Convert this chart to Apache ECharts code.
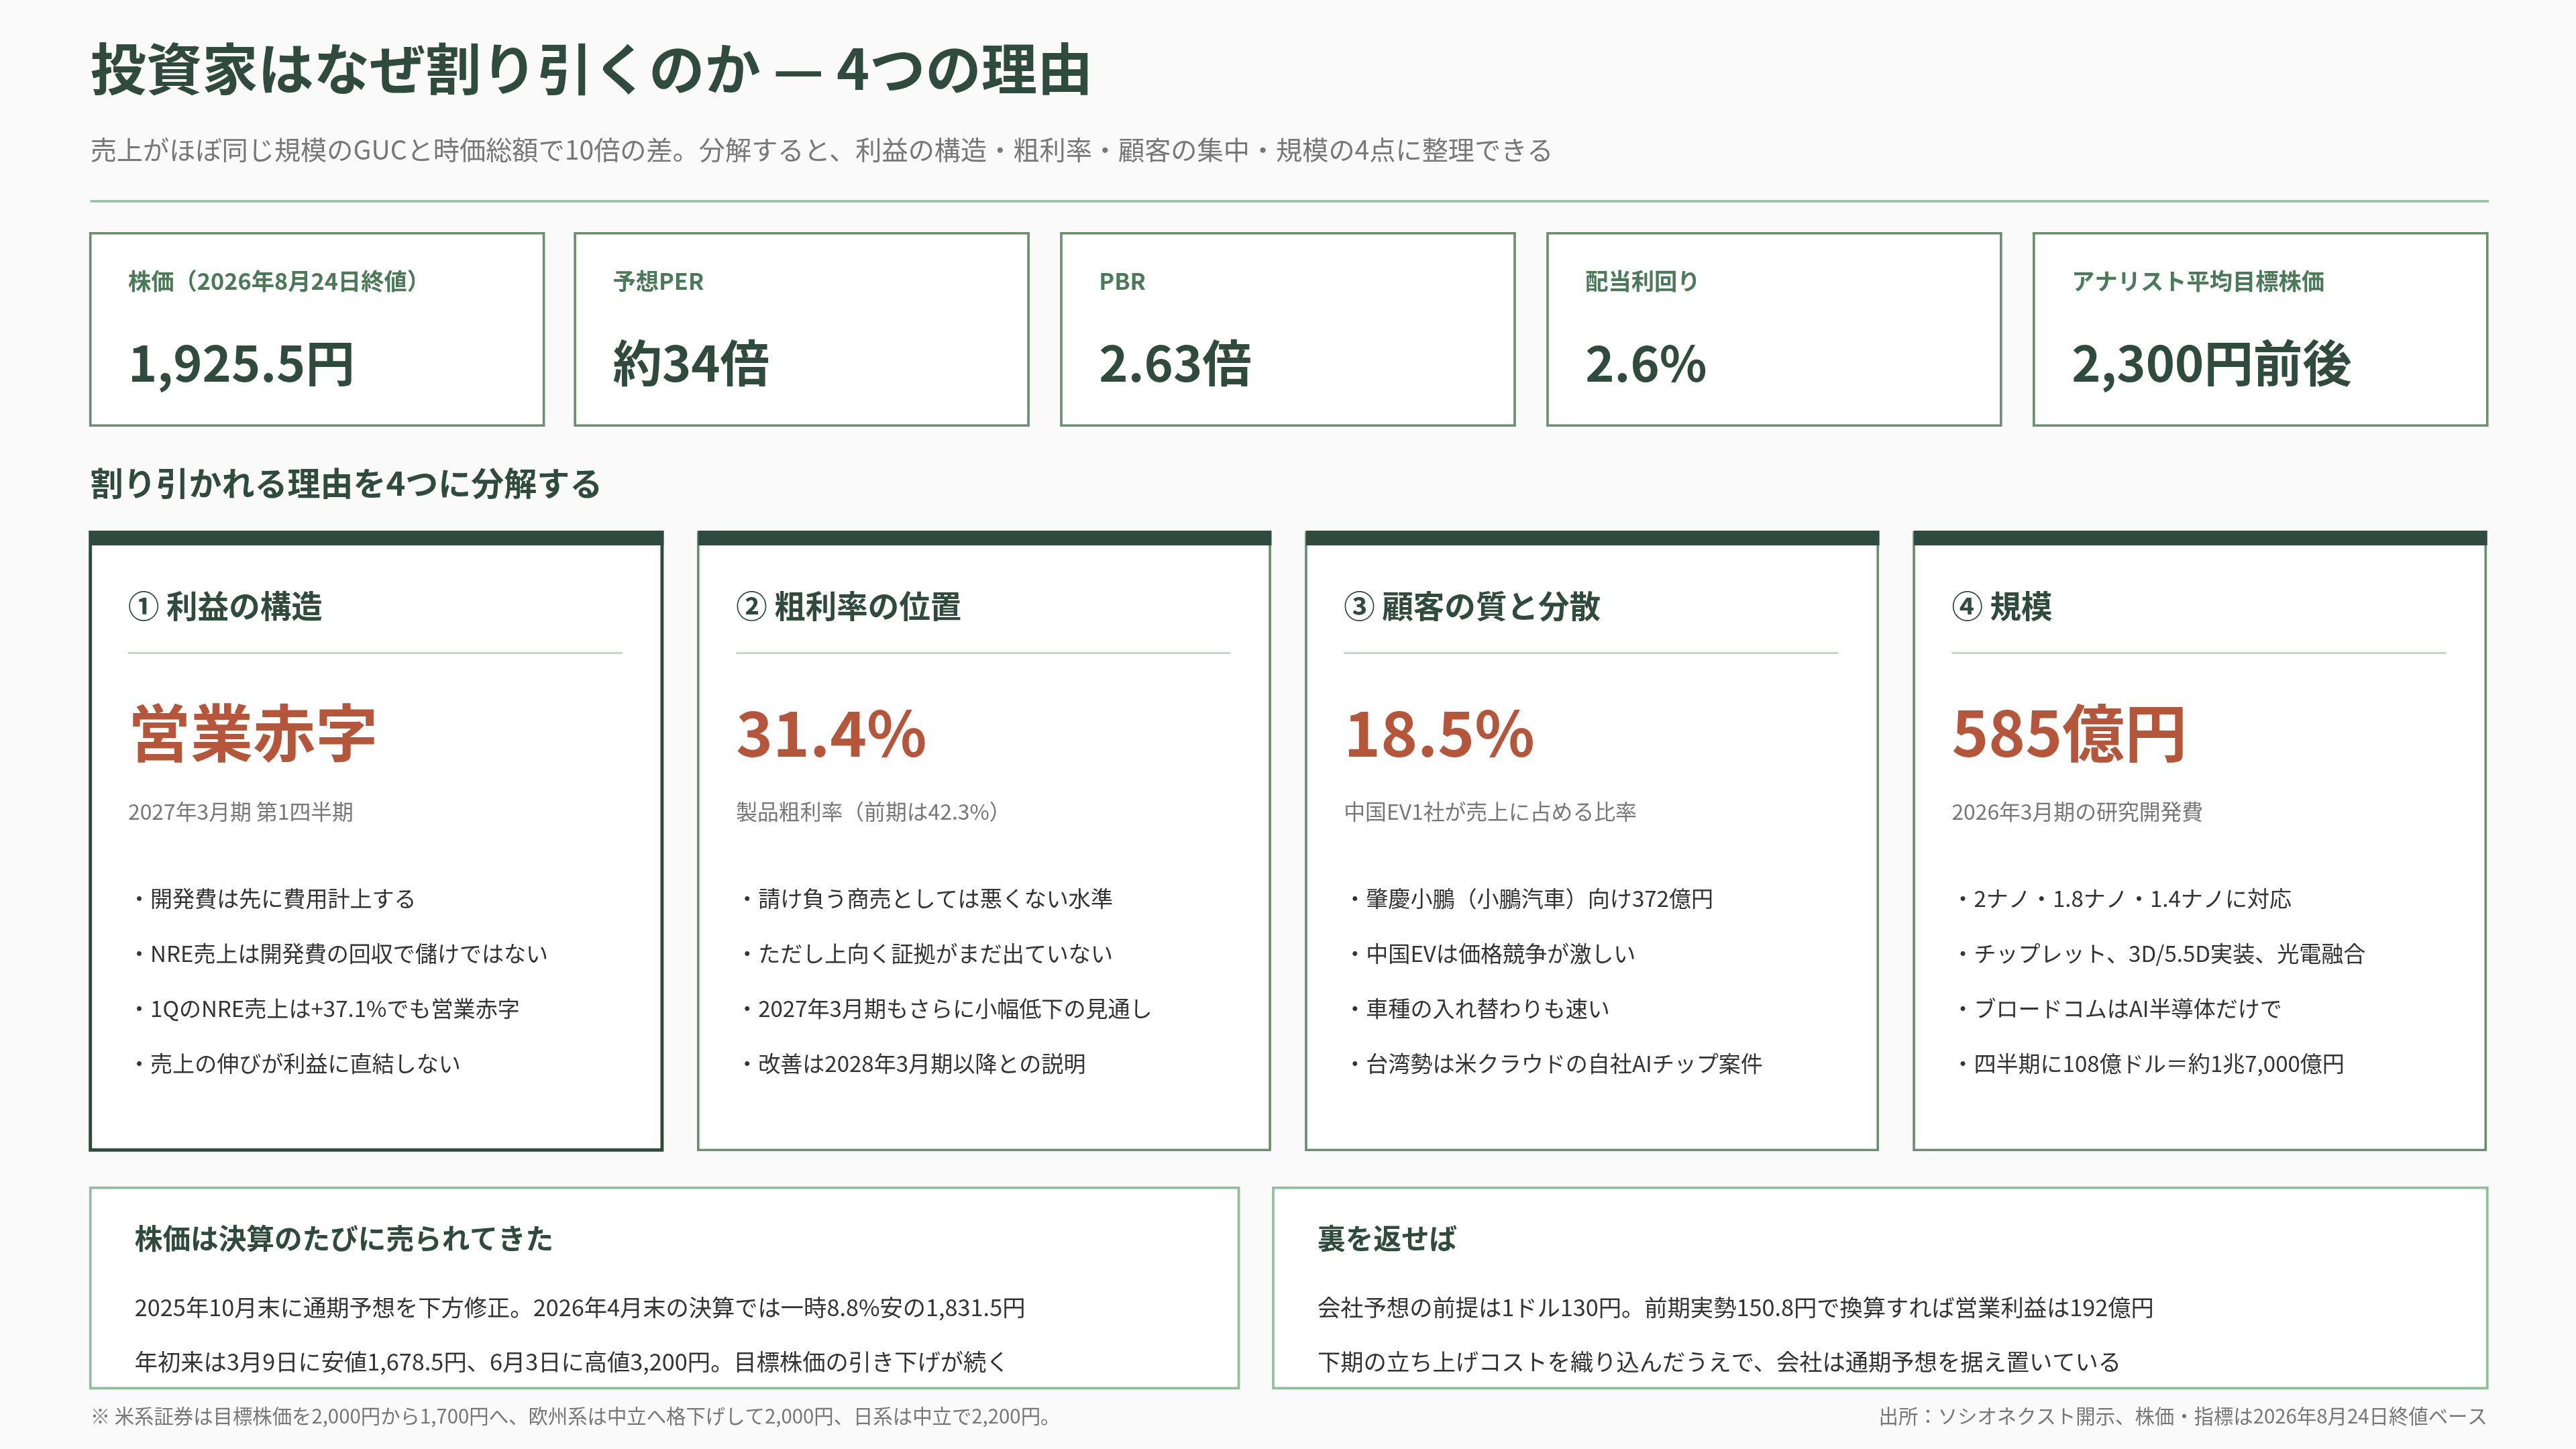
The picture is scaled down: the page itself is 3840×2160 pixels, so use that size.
<!DOCTYPE html>
<html>
<head>
<meta charset="utf-8">
<title>投資家はなぜ割り引くのか</title>
<script src="https://cdn.jsdelivr.net/npm/echarts@6/dist/echarts.min.js"></script>
<style>html,body{margin:0;background:#fafafa}#main{width:3840px;height:2160px}</style>
</head>
<body>
<div id="main"></div>
<script>
var title = '投資家はなぜ割り引くのか — 4つの理由';
var subtitle = '売上がほぼ同じ規模のGUCと時価総額で10倍の差。分解すると、利益の構造・粗利率・顧客の集中・規模の4点に整理できる';
var kpiLabels = ['株価（2026年8月24日終値）', '予想PER', 'PBR', '配当利回り', 'アナリスト平均目標株価'];
var kpiValues = ['1,925.5円', '約34倍', '2.63倍', '2.6%', '2,300円前後'];
var sectionTitle = '割り引かれる理由を4つに分解する';
var cardTitles = ['① 利益の構造', '② 粗利率の位置', '③ 顧客の質と分散', '④ 規模'];
var cardValues = ['営業赤字', '31.4%', '18.5%', '585億円'];
var cardNotes = ['2027年3月期 第1四半期', '製品粗利率（前期は42.3%）', '中国EV1社が売上に占める比率', '2026年3月期の研究開発費'];
var cardBullets = [
  ['・開発費は先に費用計上する', '・NRE売上は開発費の回収で儲けではない', '・1QのNRE売上は+37.1%でも営業赤字', '・売上の伸びが利益に直結しない'],
  ['・請け負う商売としては悪くない水準', '・ただし上向く証拠がまだ出ていない', '・2027年3月期もさらに小幅低下の見通し', '・改善は2028年3月期以降との説明'],
  ['・肇慶小鵬（小鵬汽車）向け372億円', '・中国EVは価格競争が激しい', '・車種の入れ替わりも速い', '・台湾勢は米クラウドの自社AIチップ案件'],
  ['・2ナノ・1.8ナノ・1.4ナノに対応', '・チップレット、3D/5.5D実装、光電融合', '・ブロードコムはAI半導体だけで', '・四半期に108億ドル＝約1兆7,000億円']
];
var boxTitles = ['株価は決算のたびに売られてきた', '裏を返せば'];
var boxLines = [
  ['2025年10月末に通期予想を下方修正。2026年4月末の決算では一時8.8%安の1,831.5円', '年初来は3月9日に安値1,678.5円、6月3日に高値3,200円。目標株価の引き下げが続く'],
  ['会社予想の前提は1ドル130円。前期実勢150.8円で換算すれば営業利益は192億円', '下期の立ち上げコストを織り込んだうえで、会社は通期予想を据え置いている']
];
var footLeft = '※ 米系証券は目標株価を2,000円から1,700円へ、欧州系は中立へ格下げして2,000円、日系は中立で2,200円。';
var footRight = '出所：ソシオネクスト開示、株価・指標は2026年8月24日終値ベース';

var S = 3840 / 1568;
var F = '"Noto Sans CJK JP", "Noto Sans", sans-serif';
var DARK = '#2f4a3e', GREEN = '#4a7a58', BORDER = '#6b9070', LIGHT = '#8fbf9a', RED = '#b5563a', GRAY = '#777';
var els = [];
function txt(x, y, t, size, color, weight, align) {
  els.push({type: 'text', x: x * S, y: y * S, style: {text: t, fill: color, font: (weight || 'normal') + ' ' + (size * S) + 'px ' + F, textAlign: align || 'left', textVerticalAlign: 'middle'}});
}
function rect(x, y, w, h, fill, stroke, lw) {
  els.push({type: 'rect', shape: {x: x * S, y: y * S, width: w * S, height: h * S}, style: {fill: fill, stroke: stroke || null, lineWidth: (lw || 0) * S}});
}
function line(x1, y1, x2, y2, color, lw) {
  els.push({type: 'line', shape: {x1: x1 * S, y1: y1 * S, x2: x2 * S, y2: y2 * S}, style: {stroke: color, lineWidth: lw * S}});
}

txt(55, 42, title, 34, DARK, 'bold');
txt(55, 91, subtitle, 16, GRAY);
line(55, 122.5, 1515, 122.5, LIGHT, 1.5);

var kx = [55, 350, 646, 942, 1238];
kpiLabels.forEach(function (l, i) {
  rect(kx[i], 142, 276, 117, '#fff', BORDER, 1.5);
  txt(kx[i] + 23, 171, l, 14, GREEN, 'bold');
  txt(kx[i] + 23, 221, kpiValues[i], 30, DARK, 'bold');
});

txt(55, 294, sectionTitle, 20, DARK, 'bold');

var cx = [55, 425, 795, 1165];
cardTitles.forEach(function (t, i) {
  var x = cx[i];
  rect(x, 324, 348, 376, '#fff', i === 0 ? DARK : BORDER, i === 0 ? 2 : 1.5);
  rect(x, 323, 349, 9, DARK);
  txt(x + 23, 369, t, 19, DARK, 'bold');
  line(x + 23, 397.5, x + 324, 397.5, '#c9d6cd', 1.2);
  txt(x + 23, 446, cardValues[i], 38, RED, 'bold');
  txt(x + 23, 494, cardNotes[i], 13, GRAY);
  cardBullets[i].forEach(function (b, j) {
    txt(x + 23, 547 + j * 33.5, b, 13.5, '#333');
  });
});

var bx = [55, 775], bw = [699, 739];
boxTitles.forEach(function (t, i) {
  rect(bx[i], 723, bw[i], 122, '#fff', LIGHT, 1.5);
  txt(bx[i] + 27, 754, t, 17, DARK, 'bold');
  boxLines[i].forEach(function (l, j) {
    txt(bx[i] + 27, 796 + j * 33, l, 14, '#333');
  });
});

txt(55, 862, footLeft, 12, GRAY);
txt(1514, 862, footRight, 12, GRAY, 'normal', 'right');

var chart = echarts.init(document.getElementById('main'));
chart.setOption({backgroundColor: '#fafafa', graphic: {elements: els}});
</script>
</body>
</html>
